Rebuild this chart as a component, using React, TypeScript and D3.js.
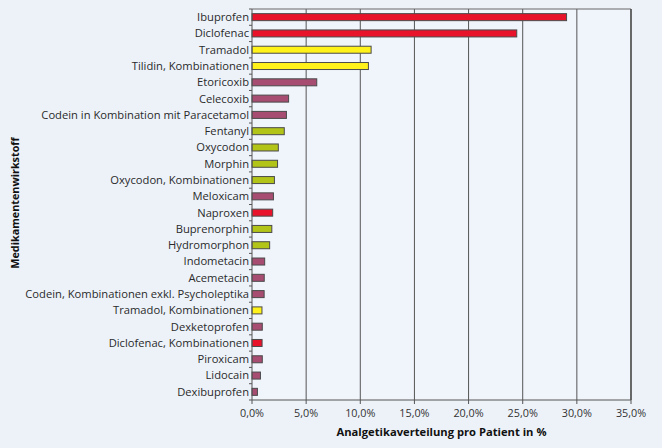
import React from "react";
import * as d3 from "d3";

const categories = [
  "Ibuprofen", "Diclofenac", "Tramadol", "Tilidin, Kombinationen", "Etoricoxib",
  "Celecoxib", "Codein in Kombination mit Paracetamol", "Fentanyl", "Oxycodon",
  "Morphin", "Oxycodon, Kombinationen", "Meloxicam", "Naproxen", "Buprenorphin",
  "Hydromorphon", "Indometacin", "Acemetacin", "Codein, Kombinationen exkl. Psycholeptika",
  "Tramadol, Kombinationen", "Dexketoprofen", "Diclofenac, Kombinationen", "Piroxicam",
  "Lidocain", "Dexibuprofen",
];
const values = [
  29.05, 24.45, 11.0, 10.75, 5.98, 3.38, 3.18, 2.98, 2.43, 2.36, 2.07, 1.98, 1.91,
  1.83, 1.63, 1.17, 1.13, 1.12, 0.92, 0.95, 0.93, 0.95, 0.78, 0.5,
];
const groups = [
  "nsar", "nsar", "weak", "weak", "cox", "cox", "cox", "strong", "strong", "strong",
  "strong", "cox", "nsar", "strong", "strong", "cox", "cox", "cox", "weak", "cox",
  "nsar", "cox", "cox", "cox",
];
const xTicks = [0, 5, 10, 15, 20, 25, 30, 35];
const colorMap: Record<string, string> = {
  nsar: "#e8132b",
  weak: "#fff21a",
  cox: "#a84d72",
  strong: "#b3c418",
};

export default function App() {
  const W = 662, H = 448;
  const left = 252, right = 631, top = 9, bottom = 400;
  const x = d3.scaleLinear().domain([0, 35]).range([left, right]);
  const y = d3.scaleBand<string>().domain(categories).range([top, bottom]).paddingInner(0.57).paddingOuter(0.285);
  const yb = d3.scaleBand<string>().domain(categories).range([top, bottom]);
  const font = "'Open Sans', 'Noto Sans', sans-serif";
  const fmt = (v: number) => v.toFixed(1).replace(".", ",") + "%";
  return (
    <svg width={W} height={H} style={{ position: "absolute", left: 0, top: 0, display: "block" }} fontFamily={font}>
      <rect x={0} y={0} width={W} height={H} fill="#edf2f9" />
      <rect x={left} y={top} width={right - left} height={bottom - top} fill="#f0f4fb" />
      {xTicks.map((t) => (
        <g key={t}>
          {t > 0 && <line x1={x(t)} x2={x(t)} y1={top} y2={bottom} stroke="#555" strokeWidth={1} />}
          <line x1={x(t)} x2={x(t)} y1={bottom} y2={bottom + 4} stroke="#555" strokeWidth={1} />
          <text x={x(t)} y={bottom + 17} textAnchor="middle" fontSize={10.8} fill="#333">{fmt(t)}</text>
        </g>
      ))}
      <line x1={left} x2={right} y1={top} y2={top} stroke="#666" strokeWidth={1} />
      <line x1={right} x2={right} y1={top} y2={bottom} stroke="#555" strokeWidth={1.5} />
      {categories.map((c, i) => (
        <g key={c}>
          <rect
            x={x(0)}
            y={y(c)!}
            width={x(values[i]) - x(0)}
            height={y.bandwidth()}
            fill={colorMap[groups[i]]}
            stroke="#4a4a4a"
            strokeWidth={1}
          />
          <text x={left - 3} y={yb(c)! + yb.bandwidth() / 2} dy="0.35em" textAnchor="end" fontSize={11.2} fill="#2a2a2a">{c}</text>
        </g>
      ))}
      {d3.range(categories.length + 1).map((i) => {
        const yy = top + i * yb.step();
        return <line key={i} x1={left - 3} x2={left} y1={yy} y2={yy} stroke="#555" strokeWidth={1} />;
      })}
      <line x1={left} x2={left} y1={top} y2={top + (bottom - top)} stroke="#555" strokeWidth={1} />
      <line x1={left} x2={right} y1={bottom} y2={bottom} stroke="#555" strokeWidth={1} />
      <text x={(left + right) / 2} y={436} textAnchor="middle" fontSize={11.2} fontWeight="bold" fill="#111">Analgetikaverteilung pro Patient in %</text>
      <text transform={`translate(19, 203) rotate(-90)`} textAnchor="middle" fontSize={10.8} fontWeight="bold" fill="#111">Medikamentenwirkstoff</text>
    </svg>
  );
}
